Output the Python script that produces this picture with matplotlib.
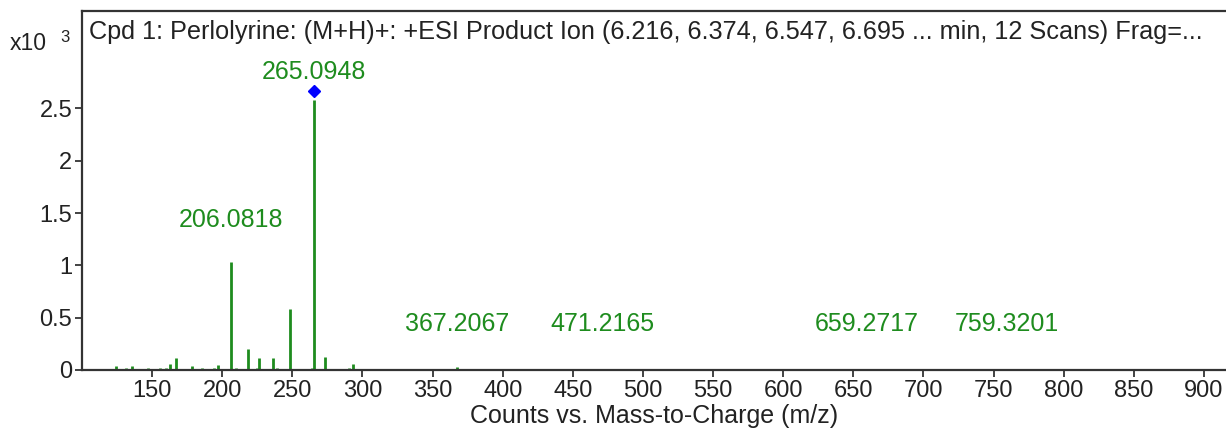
import matplotlib
matplotlib.use('agg')
import matplotlib.pyplot as plt

plt.rcParams['font.family'] = ['Liberation Sans', 'DejaVu Sans']

# product ion spectrum, m/z and counts (x10^3)
mz = [124.0, 131.1, 135.5, 147.4, 155.5, 159.8, 162.6, 166.9, 178.6, 185.7,
      194.0, 197.0, 206.0818, 209.8, 218.6, 224.5, 226.0, 236.0, 238.8, 248.6,
      264.3, 265.0948, 273.1, 290.3, 293.1, 367.2067, 384.6, 471.2165, 659.2717, 759.3201]
counts = [0.04, 0.015, 0.04, 0.015, 0.015, 0.015, 0.055, 0.11, 0.04, 0.02,
          0.015, 0.05, 1.03, 0.02, 0.2, 0.02, 0.11, 0.11, 0.02, 0.58,
          0.02, 2.58, 0.125, 0.02, 0.06, 0.03, 0.01, 0.01, 0.01, 0.003]

# labelled peaks and where their labels sit (x10^3)
label_mz = [265.0948, 206.0818, 367.2067, 471.2165, 659.2717, 759.3201]
label_y = [2.85, 1.43, 0.44, 0.44, 0.44, 0.44]
precursor_mz = 265.0948

title = ('Cpd 1: Perlolyrine: (M+H)+: +ESI Product Ion (6.216, 6.374, 6.547, '
         '6.695 ... min, 12 Scans) Frag=...')

green = '#1e8c1e'
ink = '#222222'

W, H = 1226, 429
fig = plt.figure(figsize=(W / 100, H / 100), dpi=100)
ax = fig.add_axes([82 / W, 1 - 370 / H, 1 - 82 / W + 0.002, 359 / H])

ax.vlines(mz, 0, counts, color=green, linewidth=2)
ax.plot([precursor_mz], [counts[mz.index(precursor_mz)] + 0.085], marker='D',
        color='#0000ff', markersize=6.5, linestyle='none')

for m, y in zip(label_mz, label_y):
    ax.text(m, y, f'{m:.4f}', color=green, fontsize=18, ha='center', va='center')

ax.set_xlim(100, 917.5)
ax.set_ylim(0, 3.43)
ax.set_xticks(range(150, 901, 50))
ax.set_yticks([0, 0.5, 1, 1.5, 2, 2.5])
ax.set_yticklabels(['0', '0.5', '1', '1.5', '2', '2.5'])
ax.tick_params(labelsize=17, length=5, width=1.2, colors=ink)
ax.tick_params(axis='x', pad=2)
ax.tick_params(axis='y', pad=2)

for side in ['left', 'bottom', 'top']:
    ax.spines[side].set_linewidth(1.6)
    ax.spines[side].set_color('#333333')
ax.spines['right'].set_visible(False)

fig.text(89 / W, 1 - 32 / H, title, fontsize=18.2, ha='left', va='center', color=ink)
fig.text(10 / W, 1 - 50 / H, 'x10', fontsize=16.5, ha='left', va='baseline', color=ink)
fig.text(60 / W, 1 - 38 / H, '3', fontsize=12, ha='left', va='center', color=ink)

fig.text((82 + W) / 2 / W, 1 - 423 / H, 'Counts vs. Mass-to-Charge (m/z)',
         fontsize=18, ha='center', va='baseline', color=ink)

fig.savefig('out.png', dpi=100)
